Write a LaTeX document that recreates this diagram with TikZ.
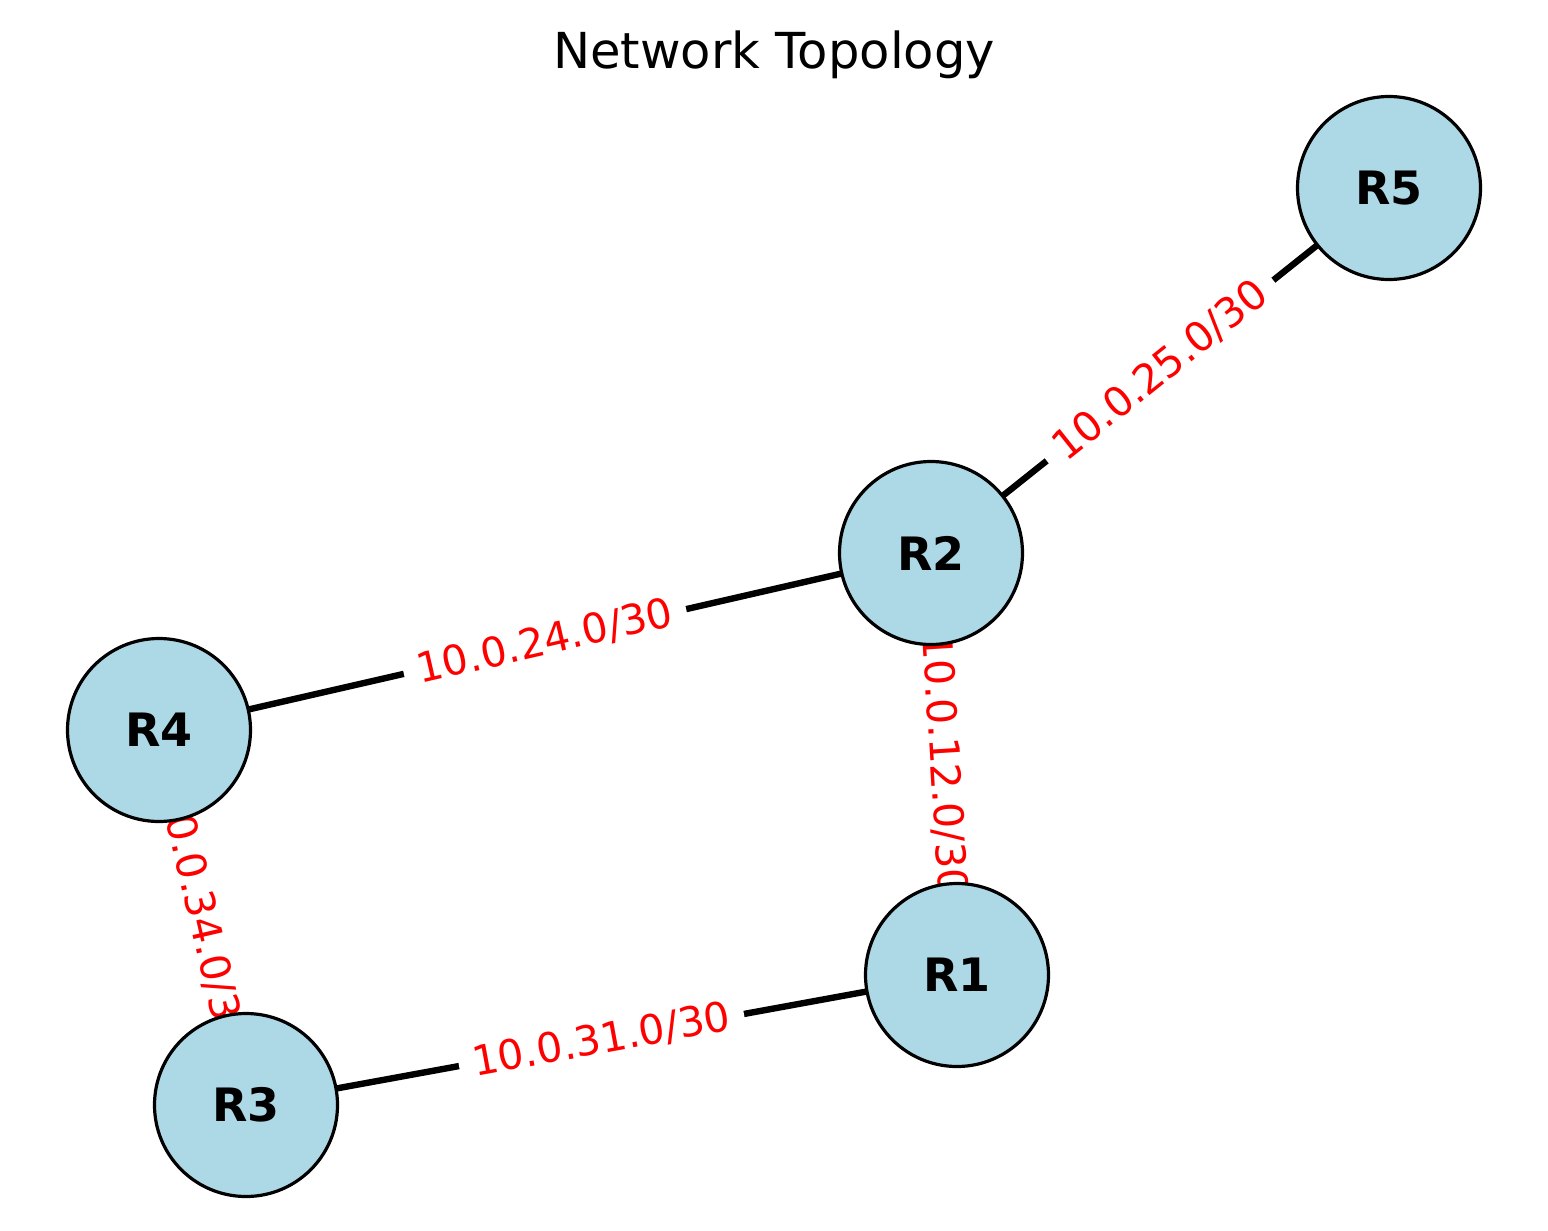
\documentclass[tikz,border=0pt]{standalone}
\usepackage{fontspec}
\setmainfont{DejaVu Sans}
\pgfdeclarelayer{edges}
\pgfdeclarelayer{labels}
\pgfsetlayers{edges,labels,main}
\definecolor{nodefill}{HTML}{ADD8E6}
\tikzset{
  router/.style={circle, draw=black, line width=1.6pt, fill=nodefill, minimum size=91.5pt, inner sep=0pt, font=\fontsize{23}{27}\selectfont\bfseries},
  link/.style={line width=3.2pt, black},
  netlabel/.style={sloped, fill=white, text=red, inner xsep=7pt, inner ysep=3pt, rounded corners=4pt, font=\fontsize{20.5}{24}\selectfont},
}
\begin{document}
\begin{tikzpicture}[x=0.5pt, y=-0.5pt]
\useasboundingbox (0,0) rectangle (1548,1231);
\node[font=\fontsize{24.8}{29}\selectfont] (title) at (774,55) {Network Topology};
\node[router] (R5) at (1389,188) {R5};
\node[router] (R2) at (931,553) {R2};
\node[router] (R4) at (159,730) {R4};
\node[router] (R1) at (957,975) {R1};
\node[router] (R3) at (246,1105) {R3};
\begin{pgfonlayer}{edges}
\draw[link] (R2.center) -- (R5.center);
\draw[link] (R4.center) -- (R2.center);
\draw[link] (R2.center) -- (R1.center);
\draw[link] (R4.center) -- (R3.center);
\draw[link] (R3.center) -- (R1.center);
\end{pgfonlayer}
\begin{pgfonlayer}{labels}
\path (R2.center) -- node[netlabel] (l25) {10.0.25.0/30} (R5.center);
\path (R4.center) -- node[netlabel] (l24) {10.0.24.0/30} (R2.center);
\path (R2.center) -- node[netlabel] (l12) {10.0.12.0/30} (R1.center);
\path (R4.center) -- node[netlabel] (l34) {10.0.34.0/30} (R3.center);
\path (R3.center) -- node[netlabel] (l31) {10.0.31.0/30} (R1.center);
\end{pgfonlayer}
\end{tikzpicture}
\end{document}
